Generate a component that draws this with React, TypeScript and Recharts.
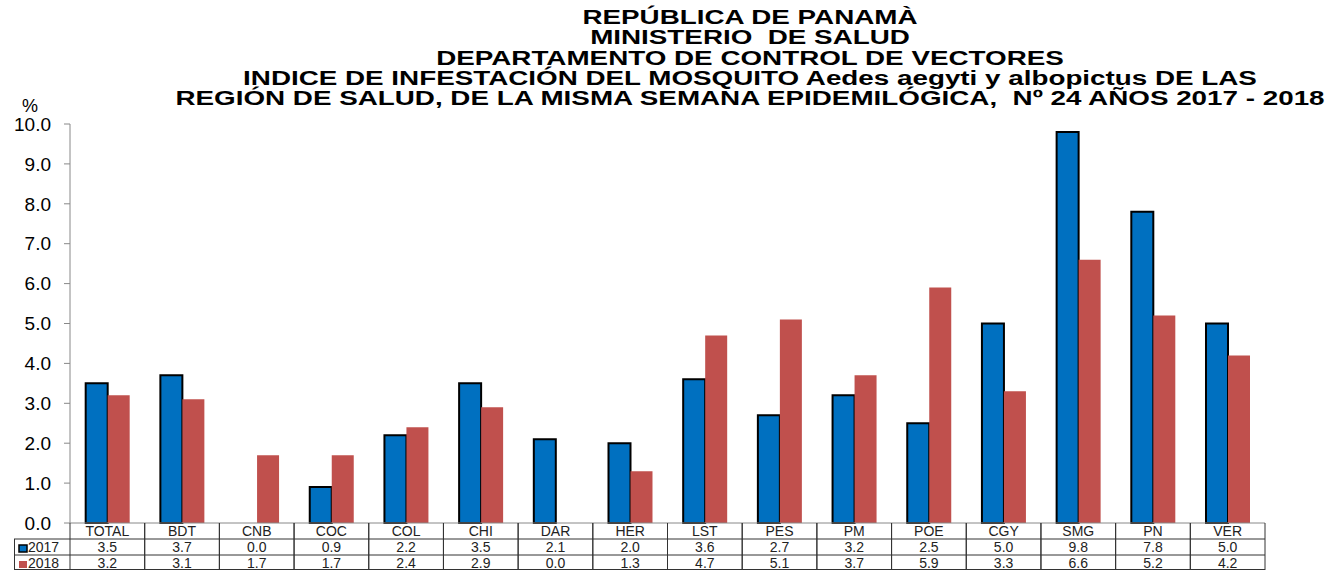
import { BarChart, Bar, XAxis, YAxis } from 'recharts';

const regions = ['TOTAL', 'BDT', 'CNB', 'COC', 'COL', 'CHI', 'DAR', 'HER', 'LST', 'PES', 'PM', 'POE', 'CGY', 'SMG', 'PN', 'VER'];
const values2017 = [3.5, 3.7, 0.0, 0.9, 2.2, 3.5, 2.1, 2.0, 3.6, 2.7, 3.2, 2.5, 5.0, 9.8, 7.8, 5.0];
const values2018 = [3.2, 3.1, 1.7, 1.7, 2.4, 2.9, 0.0, 1.3, 4.7, 5.1, 3.7, 5.9, 3.3, 6.6, 5.2, 4.2];
const yTicks = [0, 1, 2, 3, 4, 5, 6, 7, 8, 9, 10];

const titleLines = [
  'REPÚBLICA DE PANAMÀ',
  'MINISTERIO  DE SALUD',
  'DEPARTAMENTO DE CONTROL DE VECTORES',
  'INDICE DE INFESTACIÓN DEL MOSQUITO Aedes aegyti y albopictus DE LAS',
  'REGIÓN DE SALUD, DE LA MISMA SEMANA EPIDEMILÓGICA,  Nº 24 AÑOS 2017 - 2018',
];

const data = regions.map((name, i) => ({ name, v2017: values2017[i], v2018: values2018[i] }));

const W = 1335;
const H = 570;
const LEFT = 70;
const RIGHT = 70;
const BOTTOM = 47;
const PLOT_BOTTOM = H - BOTTOM;
const CELL = (W - LEFT - RIGHT) / regions.length;
const ROW1 = 539;
const ROW2 = 555;
const FONT = 'Liberation Sans, Arial, sans-serif';
const LINE = '#333';

function TableTick(props: any) {
  const { x, payload } = props;
  const i = payload.index;
  const l = x - CELL / 2;
  const r = x + CELL / 2;
  return (
    <g fontFamily={FONT} fontSize={14} fill="#222">
      <line x1={l} x2={l} y1={PLOT_BOTTOM} y2={H} stroke={LINE} />
      <line x1={r} x2={r} y1={PLOT_BOTTOM} y2={H} stroke={LINE} />
      <line x1={l} x2={r} y1={ROW1} y2={ROW1} stroke={LINE} />
      <line x1={l} x2={r} y1={ROW2} y2={ROW2} stroke={LINE} />
      <line x1={l} x2={r} y1={H - 0.5} y2={H - 0.5} stroke={LINE} />
      <text x={x} y={536} textAnchor="middle">{payload.value}</text>
      <text x={x} y={552} textAnchor="middle">{values2017[i].toFixed(1)}</text>
      <text x={x} y={568} textAnchor="middle">{values2018[i].toFixed(1)}</text>
      {i === 0 && (
        <g>
          <line x1={14} x2={l} y1={ROW1} y2={ROW1} stroke={LINE} />
          <line x1={14} x2={l} y1={ROW2} y2={ROW2} stroke={LINE} />
          <line x1={14} x2={l} y1={H - 0.5} y2={H - 0.5} stroke={LINE} />
          <line x1={14.5} x2={14.5} y1={ROW1} y2={H} stroke={LINE} />
          <rect x={19} y={545} width={8} height={7} fill="#0070C0" stroke="#000" strokeWidth={1.5} />
          <text x={28} y={552}>2017</text>
          <rect x={19} y={561} width={8} height={7} fill="#C0504D" />
          <text x={28} y={568}>2018</text>
        </g>
      )}
    </g>
  );
}

export default function App() {
  return (
    <div style={{ position: 'absolute', left: 0, top: 0, width: W, height: H, background: '#fff', overflow: 'hidden' }}>
      <div
        style={{
          position: 'absolute',
          left: 0,
          top: 7,
          width: 1500,
          textAlign: 'center',
          fontFamily: FONT,
          fontWeight: 'bold',
          fontSize: 20,
          lineHeight: '20.3px',
          color: '#000',
          whiteSpace: 'pre',
          transform: 'scaleX(1.39)',
          transformOrigin: '750px 0',
        }}
      >
        {titleLines.map((t) => (
          <div key={t}>{t}</div>
        ))}
      </div>
      <div style={{ position: 'absolute', left: 22, top: 100, fontFamily: FONT, fontSize: 18, lineHeight: '12px' }}>%</div>
      <BarChart
        width={W}
        height={H}
        data={data}
        margin={{ top: 124, right: RIGHT, bottom: 0, left: 0 }}
        barCategoryGap="21%"
        barGap={0}
      >
        <XAxis
          dataKey="name"
          height={BOTTOM}
          tickLine={false}
          axisLine={{ stroke: '#888' }}
          tick={<TableTick />}
          interval={0}
        />
        <YAxis
          width={LEFT}
          domain={[0, 10]}
          ticks={yTicks}
          tickFormatter={(v: number) => v.toFixed(1)}
          tick={{ fontFamily: FONT, fontSize: 19, fill: '#000' }}
          axisLine={{ stroke: '#888' }}
          tickLine={{ stroke: '#888' }}
          tickSize={6}
          tickMargin={13}
        />
        <Bar dataKey="v2017" fill="#0070C0" stroke="#000" strokeWidth={2} isAnimationActive={false} />
        <Bar dataKey="v2018" fill="#C0504D" isAnimationActive={false} />
      </BarChart>
    </div>
  );
}
